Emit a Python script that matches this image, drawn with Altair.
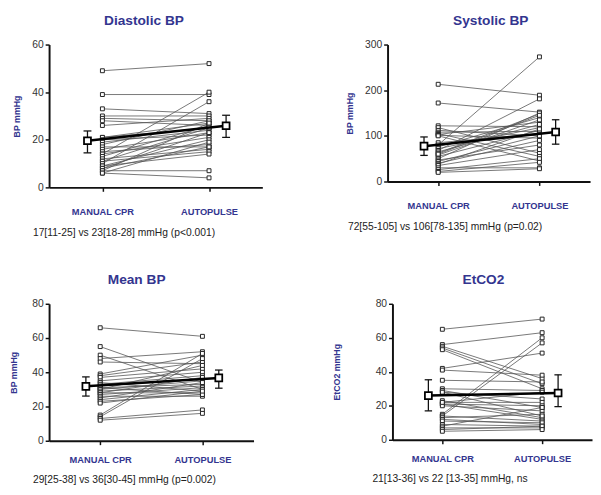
import altair as alt
import pandas as pd

NAVY = "#33358f"
FONT = "Liberation Sans"

groups = ["MANUAL CPR", "AUTOPULSE"]
group_x = [1, 2]
mean_x = [0.86, 2.16]
cap_half = 0.037

# Diastolic BP
dia_manual = [49, 39, 33, 30, 29, 28, 26, 21, 21, 20, 19, 18, 17, 16, 15, 14, 14, 13, 12, 11, 11, 10, 9, 9, 8, 8, 7, 7, 6, 6]
dia_auto = [52, 39, 31, 30, 28, 26, 29, 25, 27, 22, 24, 28, 17, 23, 18, 40, 21, 26, 16, 25, 15, 36, 14, 20, 23, 17, 27, 7, 19, 4]
dia_mean = [19.6, 25.9]
dia_lo = [14.5, 21.0]
dia_hi = [23.7, 30.3]

# Systolic BP
sys_manual = [213, 172, 122, 118, 112, 108, 105, 103, 101, 100, 85, 80, 76, 72, 68, 65, 62, 58, 55, 50, 47, 44, 40, 38, 35, 30, 26, 22, 20, 60]
sys_auto = [189, 152, 120, 62, 100, 110, 55, 130, 95, 45, 105, 273, 140, 118, 181, 125, 148, 135, 112, 150, 80, 100, 90, 115, 70, 30, 50, 42, 28, 145]
sys_mean = [77.4, 108.4]
sys_lo = [57.2, 81.8]
sys_hi = [97.6, 135.3]

# Mean BP
map_manual = [66, 55, 50, 48, 46, 39, 38, 37, 35, 34, 33, 32, 31, 31, 30, 30, 29, 28, 28, 27, 26, 25, 24, 23, 22, 15, 14, 13, 12]
map_auto = [61, 34, 30, 52, 45, 50, 46, 42, 40, 29, 38, 36, 33, 27, 35, 44, 32, 28, 37, 31, 26, 34, 30, 27, 29, 51, 48, 18, 16]
map_mean = [31.8, 36.7]
map_lo = [26.1, 30.7]
map_hi = [37.3, 41.3]

# EtCO2
co2_manual = [65, 56, 55, 54, 53, 42, 41, 35, 30, 29, 28, 23, 22, 21, 21, 20, 15, 14, 14, 13, 12, 11, 9, 8, 7, 6, 5, 28, 22]
co2_auto = [71, 63, 36, 33, 30, 51, 38, 34, 29, 19, 24, 13, 22, 12, 20, 17, 60, 57, 11, 15, 9, 10, 8, 19, 7, 8, 6, 14, 28]
co2_mean = [26.0, 27.5]
co2_lo = [17.0, 19.5]
co2_hi = [35.3, 38.2]

titles = ["Diastolic BP", "Systolic BP", "Mean BP", "EtCO2"]
ytitles = ["BP mmHg", "BP mmHg", "BP mmHg", "EtCO2 mmHg"]
notes = [
    "17[11-25] vs 23[18-28] mmHg (p<0.001)",
    "72[55-105] vs 106[78-135] mmHg (p=0.02)",
    "29[25-38] vs 36[30-45] mmHg (p=0.002)",
    "21[13-36] vs 22 [13-35] mmHg, ns",
]
yticks = [[0, 20, 40, 60], [0, 100, 200, 300], [0, 20, 40, 60, 80], [0, 20, 40, 60, 80]]


def make_panel(title, ytitle, yvals, manual, auto, mean, lo, hi, note,
               note_x, title_dx, w, h, label_pad, note_pad, ytitle_pad):
    rows = []
    for i, (m, a) in enumerate(zip(manual, auto)):
        rows.append({"id": i, "x": group_x[0], "v": m})
        rows.append({"id": i, "x": group_x[1], "v": a})
    df = pd.DataFrame(rows)
    mdf = pd.DataFrame({"x": mean_x, "v": mean, "lo": lo, "hi": hi})
    mdf["xl"] = mdf["x"] - cap_half
    mdf["xr"] = mdf["x"] + cap_half
    cdf = pd.concat([
        mdf.assign(cy=mdf["lo"]),
        mdf.assign(cy=mdf["hi"]),
    ])

    xs = alt.Scale(domain=[0.5, 2.5], nice=False, zero=False)
    ys = alt.Scale(domain=[0, yvals[-1]], nice=False)
    label_expr = f"datum.value == {group_x[0]} ? '{groups[0]}' : '{groups[1]}'"
    xaxis = alt.Axis(values=group_x, labelExpr=label_expr, grid=False,
                     labelColor=NAVY, labelFontWeight="bold", labelFontSize=9.5,
                     labelFont=FONT, labelPadding=label_pad, tickSize=4, tickWidth=1.5,
                     tickColor="#111", domainColor="#111", domainWidth=2,
                     title=note, titleFont=FONT, titleFontSize=10.5,
                     titleFontWeight="normal", titleColor="#222",
                     titleAlign="left", titleAnchor="start", titleX=note_x,
                     titlePadding=note_pad)
    yaxis = alt.Axis(values=yvals, grid=False, labelColor="#333", labelFontSize=10.5,
                     labelFont=FONT, tickSize=4, tickWidth=1.5, tickColor="#111",
                     domainColor="#111", domainWidth=2, labelPadding=2,
                     title=ytitle, titleFont=FONT, titleFontSize=9,
                     titleFontWeight="bold", titleColor=NAVY, titlePadding=ytitle_pad)

    def X(f):
        return alt.X(f"{f}:Q", scale=xs, axis=xaxis)

    def Y(f):
        return alt.Y(f"{f}:Q", scale=ys, axis=yaxis)

    lines = alt.Chart(df).mark_line(color="#555", strokeWidth=0.8).encode(
        x=X("x"), y=Y("v"), detail="id:N")
    pts = alt.Chart(df).mark_point(shape="square", filled=True, fill="white",
                                   stroke="#222", strokeWidth=1, size=16,
                                   opacity=1).encode(x=X("x"), y=Y("v"))
    mline = alt.Chart(mdf).mark_line(color="#000", strokeWidth=2.5).encode(
        x=X("x"), y=Y("v"))
    err = alt.Chart(mdf).mark_rule(color="#111", strokeWidth=1.3).encode(
        x=X("x"), y=Y("lo"), y2="hi")
    caps = alt.Chart(cdf).mark_rule(color="#111", strokeWidth=1.3).encode(
        x=X("xl"), x2="xr", y=Y("cy"))
    mpts = alt.Chart(mdf).mark_point(shape="square", filled=True, fill="white",
                                     stroke="#000", strokeWidth=1.8, size=50,
                                     opacity=1).encode(x=X("x"), y=Y("v"))
    return alt.layer(lines, pts, mline, err, caps, mpts).properties(
        width=w, height=h,
        title=alt.TitleParams(title, font=FONT, fontSize=14, fontWeight="bold",
                              color=NAVY, anchor="middle", offset=12,
                              dx=title_dx))


p1 = make_panel(titles[0], ytitles[0], yticks[0], dia_manual, dia_auto, dia_mean,
                dia_lo, dia_hi, notes[0], -17, -12, 218, 146, 16, 12, 11)
p2 = make_panel(titles[1], ytitles[1], yticks[1], sys_manual, sys_auto, sys_mean,
                sys_lo, sys_hi, notes[1], -41, 2, 207, 140, 16, 12, 10)
p3 = make_panel(titles[2], ytitles[2], yticks[2], map_manual, map_auto, map_mean,
                map_lo, map_hi, notes[2], -17, -15, 209, 140, 10, 11, 14)
p4 = make_panel(titles[3], ytitles[3], yticks[3], co2_manual, co2_auto, co2_mean,
                co2_lo, co2_hi, notes[3], -21, -9, 204, 139, 10, 11, 34)

chart = alt.vconcat(
    alt.hconcat(p1, p2, spacing=83),
    alt.hconcat(p3, p4, spacing=79),
    spacing=34,
).properties(
    padding={"left": 0, "top": 0, "right": 0, "bottom": 0},
    background="white",
).configure_view(stroke="transparent")

chart.save("out.html", embed_options={"renderer": "svg", "actions": False})
